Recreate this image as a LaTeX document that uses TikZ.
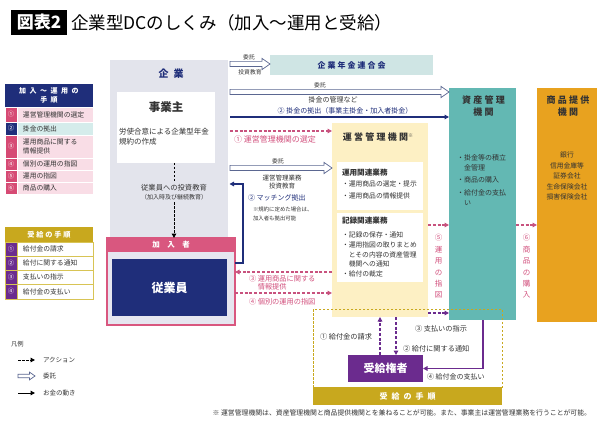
\documentclass[tikz,border=0pt]{standalone}
\usepackage{fontspec}
\setmainfont{Noto Sans CJK JP}
\newfontfamily\spc{Noto Sans CJK JP}[LetterSpace=25]
\newfontfamily\spcw{Noto Sans CJK JP}[LetterSpace=50]
\usetikzlibrary{arrows.meta,calc}
\definecolor{navy}{HTML}{1F2E7A}
\definecolor{kgray}{HTML}{E3E4EC}
\definecolor{lav}{HTML}{E6E6F0}
\definecolor{pinkc}{HTML}{D9577F}
\definecolor{pinkn}{HTML}{D64A74}
\definecolor{pinkl}{HTML}{F9DDE6}
\definecolor{tealrow}{HTML}{D5ECEB}
\definecolor{rengoc}{HTML}{CFE5E4}
\definecolor{yel}{HTML}{FDF0C4}
\definecolor{tealc}{HTML}{63B8B3}
\definecolor{orangec}{HTML}{E8A21F}
\definecolor{gold}{HTML}{C8A81E}
\definecolor{goldb}{HTML}{D8C455}
\definecolor{purp}{HTML}{6B2B8E}
\definecolor{pinkarr}{HTML}{C8527E}
\definecolor{pinktxt}{HTML}{D2507D}
\definecolor{txt}{HTML}{333333}
\definecolor{hollowc}{HTML}{5B6791}
\newcommand\fz[2]{\fontsize{#1}{#2}\selectfont}
\newcommand\hollowarrow[3][1]{\draw[hollow] let \p1=#2, \p2=#3 in
 ({\x1+2pt},{\y2+2.6pt*#1}) -- ({\x2-8pt*#1},{\y2+2.6pt*#1}) -- ({\x2-8pt*#1},{\y2+5.6pt*#1}) -- (\x2,\y2) -- ({\x2-8pt*#1},{\y2-5.6pt*#1}) -- ({\x2-8pt*#1},{\y2-2.6pt*#1}) -- ({\x1+2pt},{\y2-2.6pt*#1}) -- cycle;}
\newcommand\prow[8]{%
 \node[box,fill=#5,draw=#6,line width=0.8pt,minimum width=88pt,minimum height=#3pt] (#1) at (49,#2) {};
 \node[box,fill=#4,draw=#6,line width=0.8pt,minimum width=12pt,minimum height=#3pt,text=white,font=\fz{6.3}{7}] (#1n) at (11,#2) {#7};
 \node[anchor=west,align=left,font=\fz{6.8}{8.3}] (#1t) at (23,#2) {#8};}
\begin{document}
\begin{tikzpicture}[x=1pt,y=-1pt,
  every node/.style={inner sep=0pt,outer sep=0pt,text=txt},
  box/.style={rectangle,draw=none},
  arrtip/.style={-{Triangle[length=4.5pt,width=4.6pt]}},
  pdash/.style={draw=pinkarr,line width=1.1pt,dash pattern=on 3pt off 1.8pt,arrtip},
  kdash/.style={draw=black,line width=1pt,dash pattern=on 2.5pt off 1.5pt},
  udash/.style={draw=purp,line width=1.1pt,dash pattern=on 3pt off 1.8pt,arrtip},
  navyarr/.style={draw=navy,line width=1.4pt,arrtip},
  purparr/.style={draw=purp,line width=1.1pt,arrtip},
  hollow/.style={draw=hollowc,line width=0.7pt,fill=white}]
\fill[white] (0,0) rectangle (600,425);
\useasboundingbox (0,0) rectangle (600,425);
% title
\node[fill=black,minimum width=56pt,minimum height=25pt,text=white,font=\bfseries\fz{17}{17}] (ttlbox) at (39,22.5) {図表2};
\node[anchor=west,font=\fz{17.5}{18},text=black] (ttl) at (71,22.5) {企業型DCのしくみ（加入～運用と受給）};
% left panel 1
\node[box,fill=navy,minimum width=88pt,minimum height=23pt,align=center,text=white,font=\bfseries\spcw\fz{7}{9.5}] (p1h) at (49,95.5) {加入～運用の\\手順};
\prow{r1}{114.5}{15}{pinkn}{pinkl}{white}{①}{運営管理機関の選定}
\prow{r2}{128.5}{13}{navy}{tealrow}{white}{②}{掛金の拠出}
\prow{r3}{146.5}{23}{pinkn}{pinkl}{white}{③}{運用商品に関する\\情報提供}
\prow{r4}{164}{12}{pinkn}{pinkl}{white}{④}{個別の運用の指図}
\prow{r5}{176}{12}{pinkn}{pinkl}{white}{⑤}{運用の指図}
\prow{r6}{188}{12}{pinkn}{pinkl}{white}{⑥}{商品の購入}
% left panel 2
\node[box,fill=gold,minimum width=88pt,minimum height=15pt,text=white,font=\bfseries\spc\fz{7.2}{8}] (p2h) at (49,234.5) {受給の手順};
\prow{s1}{249}{14}{purp}{white}{goldb}{①}{給付金の請求}
\prow{s2}{263}{14}{purp}{white}{goldb}{②}{給付に関する通知}
\prow{s3}{277}{14}{purp}{white}{goldb}{③}{支払いの指示}
\prow{s4}{291.5}{15}{purp}{white}{goldb}{④}{給付金の支払い}
% legend
\node[anchor=west,font=\fz{6.3}{7}] (hanrei) at (11,344) {凡例};
\coordinate (lg1a) at (18,360); \coordinate (lg1b) at (35,360);
\coordinate (lg2a) at (16,376); \coordinate (lg2b) at (35,376);
\coordinate (lg3a) at (18,393); \coordinate (lg3b) at (35,393);
\draw[kdash,arrtip] (lg1a) -- (lg1b);
\hollowarrow[0.7]{(lg2a)}{(lg2b)}
\draw[black,line width=1pt,arrtip] (lg3a) -- (lg3b);
\node[anchor=west,font=\fz{6.5}{7}] (lg1t) at (43,360) {アクション};
\node[anchor=west,font=\fz{6.5}{7}] (lg2t) at (43,376) {委託};
\node[anchor=west,font=\fz{6.5}{7}] (lg3t) at (43,393) {お金の動き};
% kigyo
\node[box,fill=kgray,minimum width=118pt,minimum height=177pt] (kigyo) at (169,148.5) {};
\node[font=\bfseries\spcw\fz{10}{10},text=navy] (kigyoT) at (171,74) {企業};
\node[box,fill=white,minimum width=98pt,minimum height=71pt] (jig) at (166,127.5) {};
\node[font=\bfseries\fz{11.5}{12}] (jigT) at (166,107) {事業主};
\node[anchor=west,align=left,font=\fz{7.5}{10}] (jigD) at (119,137) {労使合意による企業型年金\\規約の作成};
\node[align=center,font=\fz{7.3}{9}] (edu) at (174,192.5) {従業員への投資教育\\{\fz{6}{6}（加入時及び継続教育）}};
% kanyu
\node[box,fill=lav,draw=pinkc,line width=1.2pt,minimum width=128pt,minimum height=87pt] (kanyu) at (171,281.5) {};
\node[box,fill=pinkc,minimum width=128pt,minimum height=14pt,text=white,font=\bfseries\fz{7.5}{8}] (kanyuH) at (171,245) {加　入　者};
\node[box,fill=navy,minimum width=115pt,minimum height=57pt,text=white,font=\bfseries\fz{12}{12}] (jugyo) at (169.5,287.5) {従業員};
\draw[kdash,shorten >=2pt] (jig.south -| edu) -- (edu.north);
\draw[kdash,arrtip,shorten <=2pt] (edu.south) -- (kanyu.north -| edu);
% rengo
\node[box,fill=rengoc,minimum width=163pt,minimum height=20pt,text=navy,font=\bfseries\spc\fz{8}{8}] (rengo) at (351.5,65) {企業年金連合会};
% unei
\node[box,fill=yel,minimum width=96pt,minimum height=194pt] (unei) at (380,220) {};
\node[font=\bfseries\spc\fz{9}{9}] (ueT) at (378,137) {運営管理機関\raisebox{2.5pt}{\fz{5}{5}※}};
\node[box,fill=white,minimum width=86pt,minimum height=48pt] (w1) at (380,186) {};
\node[anchor=west,font=\bfseries\fz{7.6}{8}] (w1T) at (342,173) {運用関連業務};
\node[anchor=west,align=left,font=\fz{6.8}{11.5}] (w1L) at (342,190) {・運用商品の選定・提示\\・運用商品の情報提供};
\node[box,fill=white,minimum width=86pt,minimum height=69pt] (w2) at (380,247.5) {};
\node[anchor=west,font=\bfseries\fz{7.6}{8}] (w2T) at (342,221) {記録関連業務};
\node[anchor=west,align=left,font=\fz{6.8}{9.8}] (w2L) at (342,254.5) {・記録の保存・通知\\・運用指図の取りまとめ\\\hphantom{・}とその内容の資産管理\\\hphantom{・}機関への通知\\・給付の裁定};
% sisan
\node[box,fill=tealc,minimum width=67pt,minimum height=232pt] (sisan) at (482.5,204) {};
\node[align=center,font=\bfseries\spc\fz{9}{12}] (sisanT) at (483.5,106) {資産管理\\機関};
\node[anchor=west,align=left,font=\fz{7}{10}] (sL1) at (457,163) {・掛金等の積立\\\hphantom{・}金管理};
\node[anchor=west,font=\fz{7}{10}] (sL2) at (457,180) {・商品の購入};
\node[anchor=west,align=left,font=\fz{7}{10}] (sL3) at (457,198) {・給付金の支払\\\hphantom{・}い};
% shohin
\node[box,fill=orangec,minimum width=60pt,minimum height=234pt] (shohin) at (567,205) {};
\node[align=center,font=\bfseries\spc\fz{9}{12}] (shT) at (568,106) {商品提供\\機関};
\node[align=center,font=\fz{6.8}{10.5}] (shL) at (567,176) {銀行\\信用金庫等\\証券会社\\生命保険会社\\損害保険会社};
% helper coordinates
\coordinate (y64) at (0,64); \coordinate (y92) at (0,92); \coordinate (y117) at (0,117);
\coordinate (y131) at (0,131); \coordinate (y168) at (0,168); \coordinate (y184) at (0,184);
\coordinate (y263) at (0,263); \coordinate (y272) at (0,272); \coordinate (y293) at (0,293);
\coordinate (y225) at (0,225); \coordinate (y313) at (0,313);
\coordinate (x380) at (380,0); \coordinate (x396) at (396,0); \coordinate (x483) at (483,0);
% arrows top
\hollowarrow{(kigyo.east |- y64)}{(rengo.west |- y64)}
\node[font=\fz{5.8}{6}] (l1) at (249,57) {委託};
\node[font=\fz{5.8}{6}] (l2) at (250,72) {投資教育};
\hollowarrow{(kigyo.east |- y92)}{(sisan.west |- y92)}
\node[font=\fz{5.8}{6}] (l3) at (320,85) {委託};
\node[font=\fz{7}{7}] (l4) at (333,100) {掛金の管理など};
\draw[navyarr,shorten <=2pt] (kigyo.east |- y117) -- (sisan.west |- y117);
\node[font=\fz{7}{7},text=navy] (l5) at (345,111) {② 掛金の拠出（事業主掛金・加入者掛金）};
\draw[pdash,shorten <=2pt] (kigyo.east |- y131) -- (unei.west |- y131);
\node[font=\fz{8}{8},text=pinktxt] (l6) at (275,139) {① 運営管理機関の選定};
\hollowarrow{(kigyo.east |- y168)}{(unei.west |- y168)}
\node[font=\fz{5.8}{6}] (l7) at (278,161) {委託};
\node[align=center,font=\fz{6.5}{8.5}] (l8) at (282,182) {運営管理業務\\投資教育};
% matching
\draw[navyarr,line width=1.3pt,shorten >=1.5pt] (kanyu.east |- y263) -- ++(8,0) |- (kigyo.east |- y184);
\node[anchor=west,font=\fz{7}{7},text=navy] (l9) at (248,198) {② マッチング拠出};
\node[anchor=west,align=left,font=\fz{5.4}{9}] (l10) at (253,213.5) {※規約に定めた場合は、\\加入者も拠出可能};
% 3 and 4
\draw[pdash] (unei.west |- y272) -- (kanyu.east |- y272);
\node[anchor=west,align=left,font=\fz{7.2}{8},text=pinktxt] (l11) at (249,283) {③ 運用商品に関する\\\hphantom{③ }情報提供};
\draw[pdash] (kanyu.east |- y293) -- (unei.west |- y293);
\node[anchor=west,font=\fz{7.2}{8},text=pinktxt] (l12) at (249,301.5) {④ 個別の運用の指図};
% 5 and 6
\draw[pdash] (unei.east |- y225) -- (sisan.west |- y225);
\node[align=center,font=\fz{7.5}{11.4},text=pinktxt] (l13) at (438.5,266.5) {⑤\\運\\用\\の\\指\\図};
\draw[pdash] (sisan.east |- y225) -- (shohin.west |- y225);
\node[align=center,font=\fz{7.5}{11.4},text=pinktxt] (l14) at (526.5,266.5) {⑥\\商\\品\\の\\購\\入};
% jukyu frame
\node[box,draw=gold,line width=0.9pt,dash pattern=on 2.5pt off 1.5pt,minimum width=189pt,minimum height=78pt] (jframe) at (407.5,348) {};
\node[box,fill=gold,minimum width=189pt,minimum height=18pt,text=white,font=\bfseries\spcw\fz{8}{8}] (jband) at (407.5,396) {受給の手順};
\node[box,fill=purp,minimum width=75pt,minimum height=27pt,text=white,font=\bfseries\fz{11}{11}] (jukyu) at (385.5,368.5) {受給権者};
\draw[udash] (jukyu.north -| x380) -- (unei.south -| x380);
\draw[udash] (unei.south -| x396) -- (jukyu.north -| x396);
\draw[udash] (unei.east |- y313) -- (sisan.west |- y313);
\draw[purparr] (sisan.south -| x483) |- (jukyu.east);
\node[anchor=west,font=\fz{7.2}{8}] (l15) at (320,337) {① 給付金の請求};
\node[anchor=west,font=\fz{7.2}{8}] (l16) at (403,349) {② 給付に関する通知};
\node[anchor=west,font=\fz{7.2}{8}] (l17) at (415,329) {③ 支払いの指示};
\node[anchor=west,font=\fz{7}{8}] (l18) at (427,377) {④ 給付金の支払い};
% footnote
\node[anchor=east,font=\fz{6.85}{7}] (fn) at (591,413) {※ 運営管理機関は、資産管理機関と商品提供機関とを兼ねることが可能。また、事業主は運営管理業務を行うことが可能。};
\end{tikzpicture}
\end{document}
